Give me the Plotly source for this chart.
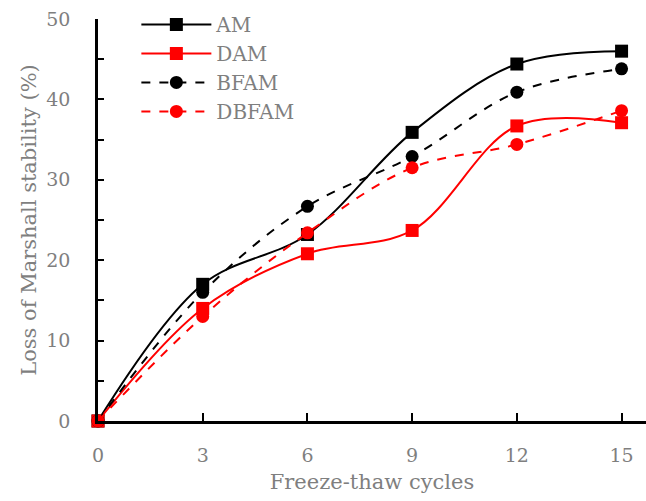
import plotly.graph_objects as go

cycles = [0, 3, 6, 9, 12, 15]
am = [0, 17.0, 23.2, 35.9, 44.4, 46.0]
dam = [0, 14.0, 20.8, 23.7, 36.7, 37.1]
bfam = [0, 16.0, 26.7, 32.9, 40.9, 43.8]
dbfam = [0, 13.0, 23.4, 31.5, 34.4, 38.6]

FONT = "DejaVu Serif"
GRAY = "#7f7f7f"

series = [
    ("AM", am, "black", "solid", "square"),
    ("DAM", dam, "red", "solid", "square"),
    ("BFAM", bfam, "black", "dash", "circle"),
    ("DBFAM", dbfam, "red", "dash", "circle"),
]

fig = go.Figure()
for name, ys, color, dash, sym in series:
    fig.add_trace(go.Scatter(
        x=cycles, y=ys, name=name, mode="lines+markers",
        line=dict(color=color, width=2, dash="dash" if dash == "dash" else "solid", shape="spline", smoothing=1.0),
        marker=dict(symbol=sym, size=13, color=color),
        cliponaxis=False,
    ))

fig.update_layout(
    width=646, height=501,
    margin=dict(l=98, r=0, t=19, b=80),
    paper_bgcolor="white", plot_bgcolor="white",
    font=dict(family=FONT, size=19, color=GRAY),
    showlegend=True,
    legend=dict(x=0.07, y=1.035, xanchor="left", yanchor="top",
                bgcolor="rgba(0,0,0,0)", font=dict(family=FONT, size=20, color=GRAY),
                tracegroupgap=0, itemwidth=70),
)
fig.update_xaxes(
    range=[0, 15.7], tickvals=cycles, ticks="inside", ticklen=8, tickwidth=2, tickcolor="black",
    showline=True, linecolor="black", linewidth=2.5, showgrid=False, zeroline=False,
    ticklabelstandoff=15,
    title=dict(text="Freeze-thaw cycles", standoff=10, font=dict(size=21, color=GRAY)),
)
fig.update_yaxes(
    range=[0, 50], dtick=10, ticks="inside", ticklen=6, tickwidth=2, tickcolor="black",
    minor=dict(dtick=5, ticks="inside", ticklen=6, tickwidth=2, tickcolor="black"),
    showline=True, linecolor="black", linewidth=2.5, showgrid=False, zeroline=False,
    ticklabelstandoff=21,
    title=dict(text="Loss of Marshall stability (%)", standoff=4, font=dict(size=21, color=GRAY)),
)

fig.write_html("out.html")
